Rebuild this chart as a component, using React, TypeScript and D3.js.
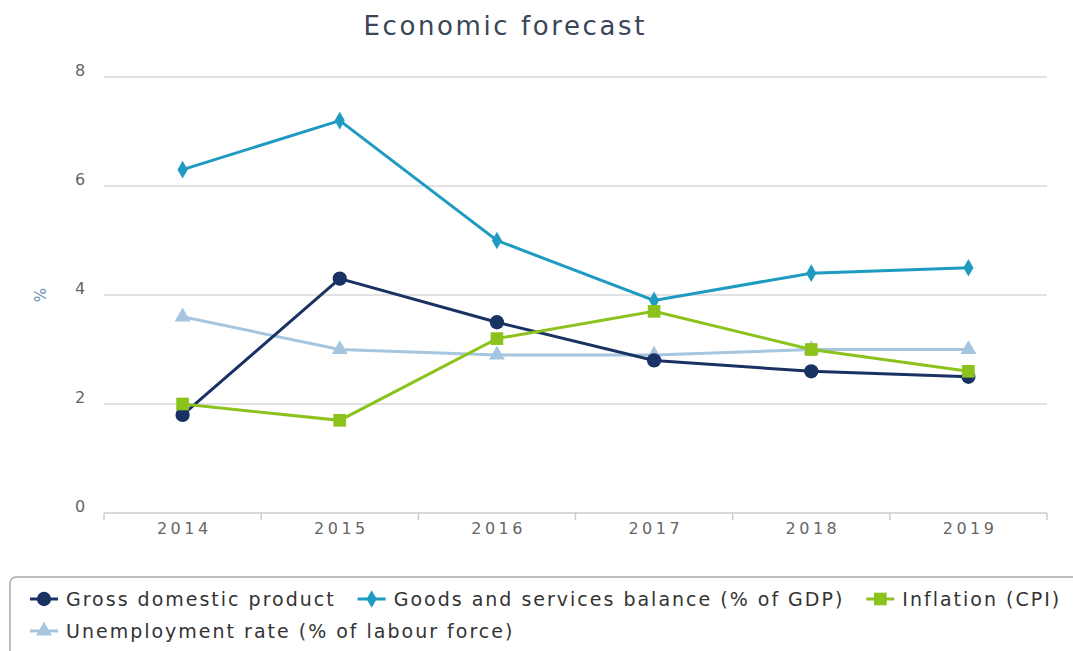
import React, { useEffect, useRef } from "react";
import * as d3 from "d3";

const years = ["2014", "2015", "2016", "2017", "2018", "2019"];
const gdp = [1.8, 4.3, 3.5, 2.8, 2.6, 2.5];
const goodsBalance = [6.3, 7.2, 5.0, 3.9, 4.4, 4.5];
const inflation = [2.0, 1.7, 3.2, 3.7, 3.0, 2.6];
const unemployment = [3.6, 3.0, 2.9, 2.9, 3.0, 3.0];
const yTicks = [0, 2, 4, 6, 8];

const seriesNames = [
  "Gross domestic product",
  "Goods and services balance (% of GDP)",
  "Inflation (CPI)",
  "Unemployment rate (% of labour force)",
];
const seriesColors = ["#1a3263", "#1f9bc2", "#8cc21c", "#a6c6df"];
const seriesSymbols = [d3.symbolCircle, d3.symbolDiamond, d3.symbolSquare, d3.symbolTriangle];
const seriesValues = [gdp, goodsBalance, inflation, unemployment];
const drawOrder = [3, 1, 0, 2];

const W = 1073;
const H = 651;
const FONT = "'DejaVu Sans', Verdana, sans-serif";

export default function App() {
  const ref = useRef<SVGSVGElement | null>(null);

  useEffect(() => {
    const svg = d3.select(ref.current);
    svg.selectAll("*").remove();

    const left = 104, right = 1047, top = 77, bottom = 513;
    const x = d3.scaleBand().domain(years).range([left, right]);
    const y = d3.scaleLinear().domain([0, 8]).range([bottom, top]);

    // Title
    svg.append("text")
      .attr("x", 504 + 1.2).attr("y", 35)
      .attr("text-anchor", "middle")
      .attr("font-family", FONT)
      .attr("font-size", 26)
      .attr("letter-spacing", 2.6)
      .attr("fill", "#3b4656")
      .text("Economic forecast");

    // Grid lines
    svg.append("g").selectAll("line")
      .data(yTicks.filter((t) => t > 0))
      .join("line")
      .attr("x1", left).attr("x2", right)
      .attr("y1", (d) => y(d)).attr("y2", (d) => y(d))
      .attr("stroke", "#d8d8d8").attr("stroke-width", 1.5);

    // Y labels
    svg.append("g").selectAll("text")
      .data(yTicks)
      .join("text")
      .attr("x", 80).attr("y", (d) => y(d) - 1)
      .attr("text-anchor", "middle")
      .attr("font-family", FONT)
      .attr("font-size", 16)
      .attr("fill", "#666")
      .text((d) => String(d));

    // Y title
    svg.append("text")
      .attr("transform", `translate(${46},${295}) rotate(-90)`)
      .attr("text-anchor", "middle")
      .attr("font-family", FONT)
      .attr("font-size", 15)
      .attr("fill", "#6b8fb5")
      .text("%");

    // X axis
    const xAxis = svg.append("g");
    xAxis.append("line")
      .attr("x1", left).attr("x2", right)
      .attr("y1", bottom).attr("y2", bottom)
      .attr("stroke", "#ccc").attr("stroke-width", 1.5);
    const boundaries = years.map((yr) => x(yr) as number).concat([right]);
    xAxis.selectAll("line.tick")
      .data(boundaries)
      .join("line")
      .attr("class", "tick")
      .attr("x1", (d) => d).attr("x2", (d) => d)
      .attr("y1", bottom).attr("y2", bottom + 7)
      .attr("stroke", "#ccc").attr("stroke-width", 1.5);
    xAxis.selectAll("text")
      .data(years)
      .join("text")
      .attr("x", (d) => (x(d) as number) + x.bandwidth() / 2 + 1.7)
      .attr("y", 534)
      .attr("text-anchor", "middle")
      .attr("font-family", FONT)
      .attr("font-size", 16)
      .attr("letter-spacing", 3.5)
      .attr("fill", "#666")
      .text((d) => d);

    const cx = (i: number) => (x(years[i]) as number) + x.bandwidth() / 2;
    const line = d3.line<number>().x((_, i) => cx(i)).y((d) => y(d));
    const symSizes = [160, 90, 160, 110];

    drawOrder.forEach((s) => {
      const g = svg.append("g");
      g.append("path")
        .datum(seriesValues[s])
        .attr("d", line)
        .attr("fill", "none")
        .attr("stroke", seriesColors[s])
        .attr("stroke-width", 3);
      g.selectAll("path.m")
        .data(seriesValues[s])
        .join("path")
        .attr("class", "m")
        .attr("transform", (d, i) => `translate(${cx(i)},${y(d)})`)
        .attr("d", d3.symbol().type(seriesSymbols[s]).size(symSizes[s])())
        .attr("fill", seriesColors[s]);
    });

    // Legend box
    svg.append("rect")
      .attr("x", 10).attr("y", 577)
      .attr("width", 1100).attr("height", 100)
      .attr("rx", 6)
      .attr("fill", "white")
      .attr("stroke", "#a8a8a8").attr("stroke-width", 1.5);

    const rows = [[0, 1, 2], [3]];
    rows.forEach((row, ri) => {
      let lx = 30;
      const ly = 599 + ri * 32;
      row.forEach((s) => {
        const g = svg.append("g");
        g.append("line")
          .attr("x1", lx).attr("x2", lx + 28)
          .attr("y1", ly).attr("y2", ly)
          .attr("stroke", seriesColors[s]).attr("stroke-width", 3);
        g.append("path")
          .attr("transform", `translate(${lx + 14},${ly})`)
          .attr("d", d3.symbol().type(seriesSymbols[s]).size(symSizes[s])())
          .attr("fill", seriesColors[s]);
        const t = g.append("text")
          .attr("x", lx + 36).attr("y", ly + 7)
          .attr("font-family", FONT)
          .attr("font-size", 19)
          .attr("letter-spacing", 2.0)
          .attr("fill", "#333")
          .text(seriesNames[s]);
        const w = (t.node() as SVGTextElement).getComputedTextLength();
        lx = lx + 36 + w + 22;
      });
    });
  }, []);

  return (
    <svg
      ref={ref}
      width={W}
      height={H}
      style={{ position: "absolute", left: 0, top: 0, background: "white" }}
    />
  );
}
